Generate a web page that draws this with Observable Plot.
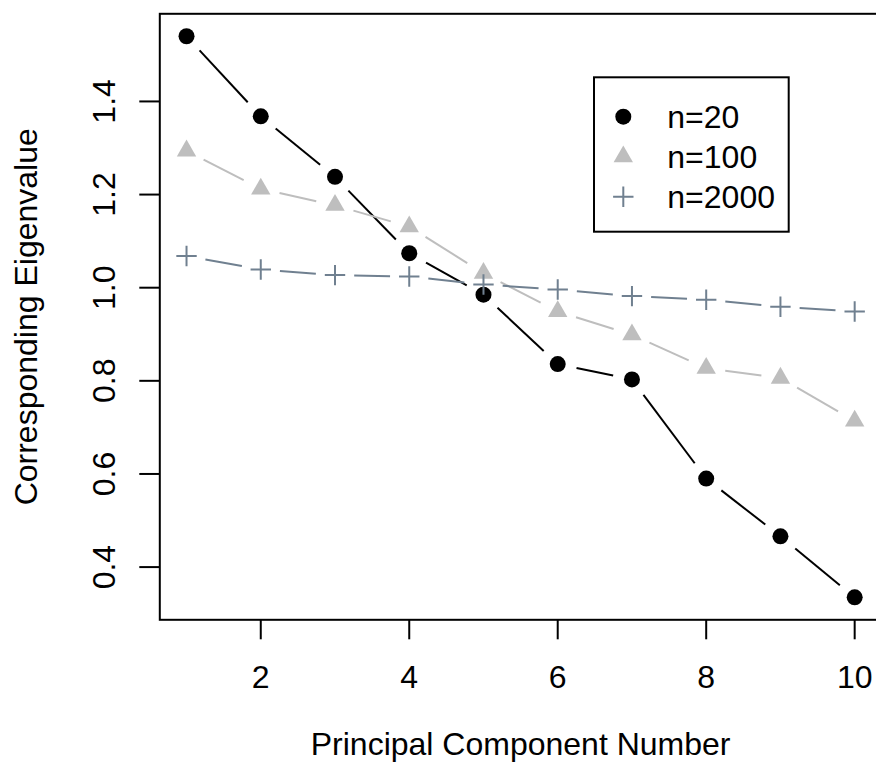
<!DOCTYPE html>
<html><head><meta charset="utf-8">
<script src="https://cdn.jsdelivr.net/npm/d3@7"></script>
<script src="https://cdn.jsdelivr.net/npm/@observablehq/plot@0.6"></script>
<style>html,body{margin:0;padding:0;background:#fff;overflow:hidden}#chart svg{display:block}</style>
</head><body><div id="chart"></div>
<script>
// ---- data ----
const components = [1, 2, 3, 4, 5, 6, 7, 8, 9, 10];
const n20   = [1.540, 1.368, 1.238, 1.074, 0.985, 0.836, 0.803, 0.590, 0.466, 0.335];
const n100  = [1.294, 1.212, 1.177, 1.131, 1.031, 0.949, 0.899, 0.827, 0.806, 0.714];
const n2000 = [1.068, 1.039, 1.027, 1.024, 1.007, 0.996, 0.982, 0.974, 0.959, 0.949];
const seriesNames = ["n=20", "n=100", "n=2000"];
const seriesColors = ["#000000", "#BEBEBE", "#708090"];
const xTicks = [2, 4, 6, 8, 10];
const yTicks = [0.4, 0.6, 0.8, 1.0, 1.2, 1.4];
const xLabel = "Principal Component Number";
const yLabel = "Corresponding Eigenvalue";

// ---- build ----
const seriesVals = [n20, n100, n2000];
const FONT = "'Liberation Sans', Arial, Helvetica, sans-serif";
const FS = 32;
const layout = {width: 876, height: 771, marginLeft: 159.3, marginRight: -4.9, marginTop: 13.3, marginBottom: 151.7};

// R-style 4% axis extension
function ext(vals) { const [a, b] = d3.extent(vals); const p = (b - a) * 0.04; return [a - p, b + p]; }
const xDom = ext(components);
const yDom = ext(seriesVals.flat());

const probe = Plot.plot({...layout, x: {domain: xDom}, y: {domain: yDom}, marks: [Plot.frame()]});
const xs = probe.scale("x"), ys = probe.scale("y");
const fx = d3.scaleLinear(xs.domain, xs.range), fy = d3.scaleLinear(ys.domain, ys.range);

// type="b" segments: lines with gaps around points (gap in screen pixels)
const GAP = 19.2;
function segments(vals, s) {
  const out = [];
  for (let i = 0; i < vals.length - 1; i++) {
    const ax = fx(components[i]), ay = fy(vals[i]);
    const bx = fx(components[i + 1]), by = fy(vals[i + 1]);
    const d = Math.hypot(bx - ax, by - ay);
    if (d <= 2 * GAP) continue;
    const ux = (bx - ax) / d, uy = (by - ay) / d;
    out.push({
      x1: fx.invert(ax + ux * GAP), y1: fy.invert(ay + uy * GAP),
      x2: fx.invert(bx - ux * GAP), y2: fy.invert(by - uy * GAP), s
    });
  }
  return out;
}

const marks = [];
seriesVals.forEach((vals, s) => {
  const pts = vals.map((v, i) => ({pc: components[i], value: v}));
  marks.push(Plot.link(segments(vals, s), {x1: "x1", y1: "y1", x2: "x2", y2: "y2", stroke: seriesColors[s], strokeWidth: 2}));
  if (s === 0) marks.push(Plot.dot(pts, {x: "pc", y: "value", r: 8, fill: seriesColors[s], stroke: "none"}));
  if (s === 1) marks.push(Plot.dot(pts, {x: "pc", y: "value", r: 7.2, symbol: "triangle", fill: seriesColors[s], stroke: "none"}));
  if (s === 2) marks.push(Plot.dot(pts, {x: "pc", y: "value", r: 6.62, symbol: "plus", stroke: seriesColors[s], strokeWidth: 2, fill: "none"}));
});

const chart = Plot.plot({
  ...layout,
  style: {fontFamily: FONT, fontSize: FS + "px", background: "white", color: "black"},
  x: {domain: xDom},
  y: {domain: yDom},
  marks: [
    Plot.axisX({ticks: xTicks, tickSize: 20, tickPadding: 25.7, strokeWidth: 2, fontSize: FS, tickFormat: d => String(d), label: null}),
    Plot.axisY({ticks: yTicks, tickSize: 20, strokeWidth: 2, tickFormat: () => "", label: null}),
    Plot.text(yTicks, {y: d => d, text: d => d.toFixed(1), frameAnchor: "left", textAnchor: "middle", rotate: -90, dx: -55.3, fontSize: FS, fill: "black"}),
    Plot.text([yLabel], {text: d => d, frameAnchor: "left", textAnchor: "middle", rotate: -90, dx: -133.3, fontSize: FS, fill: "black"}),
    Plot.text([xLabel], {text: d => d, frameAnchor: "bottom", textAnchor: "middle", dy: 135.5, fontSize: FS, fill: "black"}),
    ...marks,
    Plot.frame({stroke: "black", strokeWidth: 2})
  ]
});

// ---- legend (inside plot area, R legend box) ----
const svg = d3.select(chart);
const lg = svg.append("g").attr("font-family", FONT).attr("font-size", FS).attr("text-anchor", "start");
lg.append("rect").attr("x", 594).attr("y", 77.3).attr("width", 194.7).attr("height", 154.4)
  .attr("fill", "white").attr("stroke", "black").attr("stroke-width", 2);
seriesNames.forEach((name, s) => {
  const cy = 116.7 + s * 40, cx = 623.3;
  if (s === 0) lg.append("circle").attr("cx", cx).attr("cy", cy).attr("r", 8).attr("fill", seriesColors[s]);
  if (s === 1) lg.append("path").attr("d", d3.symbol(d3.symbolTriangle, Math.PI * 7.2 * 7.2)()).attr("transform", `translate(${cx},${cy})`).attr("fill", seriesColors[s]);
  if (s === 2) lg.append("path").attr("d", d3.symbol(d3.symbolPlus, Math.PI * 6.62 * 6.62)()).attr("transform", `translate(${cx},${cy})`).attr("fill", "none").attr("stroke", seriesColors[s]).attr("stroke-width", 2);
  lg.append("text").attr("x", 667.3).attr("y", cy + 11.5).attr("fill", "black").attr("text-anchor", "start").text(name);
});

document.getElementById("chart").appendChild(chart);
</script>
</body></html>
